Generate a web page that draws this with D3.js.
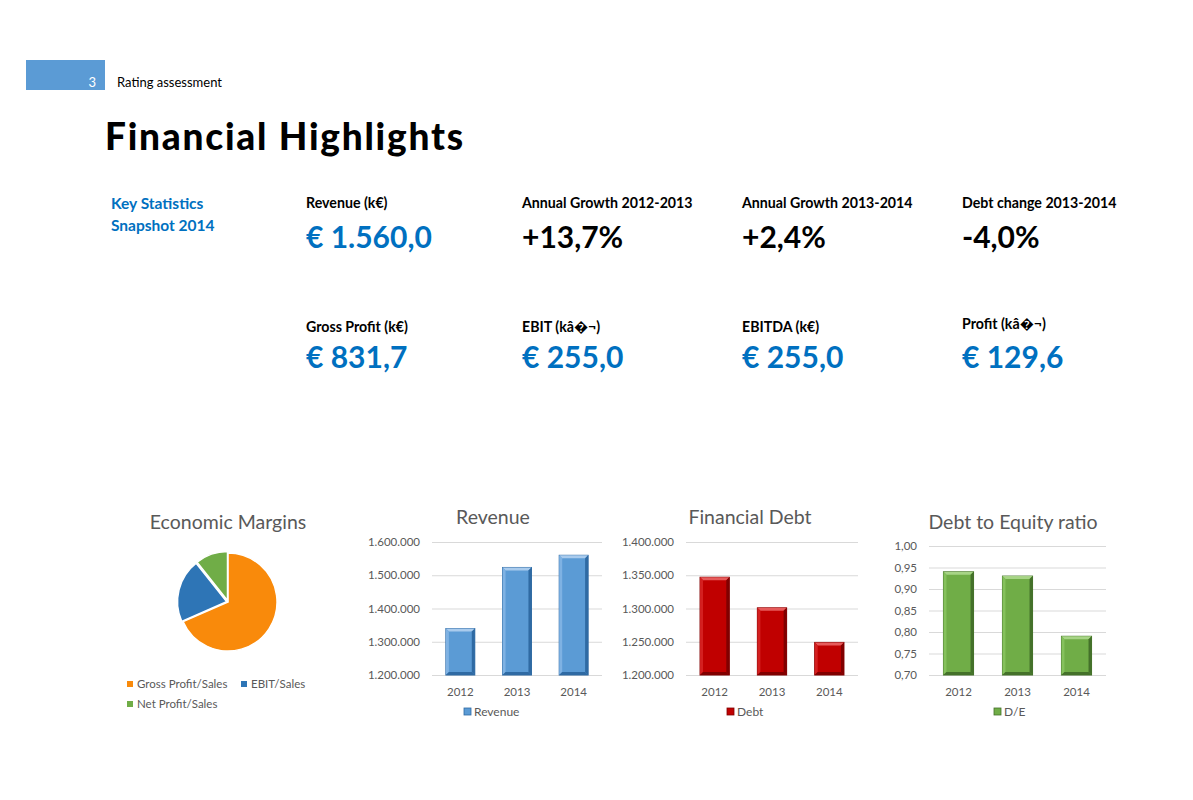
<!DOCTYPE html>
<html>
<head>
<meta charset="utf-8">
<script src="https://cdn.jsdelivr.net/npm/d3@7"></script>
<style>
body { margin:0; background:#fff; }
svg text { font-family: Lato, "Open Sans", sans-serif; }
</style>
</head>
<body>
<div id="page"></div>
<script>
// key figures (snapshot 2014)
var statLabels = ["Revenue (k€)", "Annual Growth 2012-2013", "Annual Growth 2013-2014", "Debt change 2013-2014",
                  "Gross Profit (k€)", "EBIT (kâ\uFFFD¬)", "EBITDA (k€)", "Profit (kâ\uFFFD¬)"]
var statValues = ["€ 1.560,0", "+13,7%", "+2,4%", "-4,0%", "€ 831,7", "€ 255,0", "€ 255,0", "€ 129,6"]

// charts
var years = ["2012", "2013", "2014"]
var revenue = [1339800, 1523400, 1560000]
var debt = [1347000, 1301000, 1249000]
var debtEquity = [0.94, 0.93, 0.79]
var marginNames = ["Gross Profit/Sales", "EBIT/Sales", "Net Profit/Sales"]
var marginValues = [53.3, 16.3, 8.3]

var W = 1193, H = 800
var grey = "#595959"
var blueText = "#0070c0"
var it = d3.formatLocale({decimal: ",", thousands: ".", grouping: [3], currency: ["€", ""]})

var svg = d3.select("#page").append("svg").attr("width", W).attr("height", H)

// header
svg.append("rect").attr("x", 26).attr("y", 60).attr("width", 79).attr("height", 30).attr("fill", "#5b9bd5")
svg.append("text").attr("x", 96).attr("y", 87).attr("text-anchor", "end").attr("fill", "#fff")
	.style("font-size", "13px").text("3")
svg.append("text").attr("x", 117).attr("y", 87).attr("fill", "#000").style("font-size", "13px").text("Rating assessment")

svg.append("text").attr("x", 105).attr("y", 150).attr("fill", "#000")
	.style("font-size", "37px").style("font-weight", "900")
	.attr("textLength", 358).attr("lengthAdjust", "spacing")
	.text("Financial Highlights")

// key statistics
svg.append("text").attr("x", 111).attr("y", 209).attr("fill", blueText)
	.style("font-size", "15.5px").style("font-weight", "bold").text("Key Statistics")
svg.append("text").attr("x", 111).attr("y", 231).attr("fill", blueText)
	.style("font-size", "15.5px").style("font-weight", "bold").text("Snapshot 2014")

var colX = [306, 522, 742, 962]
statLabels.forEach(function(lab, i) {
	var row = Math.floor(i / 4), col = i % 4
	var ly = row == 0 ? 208 : (i == 7 ? 329 : 332)
	var vy = row == 0 ? 248 : 368
	svg.append("text").attr("x", colX[col]).attr("y", ly).attr("fill", "#000")
		.style("font-size", "14.2px").style("font-weight", "bold").text(lab)
	var isPct = statValues[i].indexOf("%") >= 0
	svg.append("text").attr("x", colX[col]).attr("y", vy).attr("fill", isPct ? "#000" : blueText)
		.style("font-size", "30px").style("font-weight", "bold").text(statValues[i])
})

// pie: economic margins
svg.append("text").attr("x", 228).attr("y", 529).attr("text-anchor", "middle").attr("fill", grey)
	.style("font-size", "19.5px").text("Economic Margins")
var pieColors = ["#f98a0b", "#2e75b6", "#70ad47"]
var pie = d3.pie().sort(null)(marginValues)
var arc = d3.arc().innerRadius(0).outerRadius(49)
svg.append("g").attr("transform", "translate(228,602)")
	.selectAll("path").data(pie).enter().append("path")
	.attr("d", arc)
	.attr("transform", function(d, i) {
		if (i == 0) return null
		var c = arc.centroid(d), k = 1.5 / Math.hypot(c[0], c[1])
		return "translate(" + c[0] * k + "," + c[1] * k + ")"
	})
	.attr("fill", function(d, i) { return pieColors[i] })
	.attr("stroke", "#fff").attr("stroke-width", 1.5)
var legPos = [[127, 688], [241, 688], [127, 708]]
marginNames.forEach(function(n, i) {
	svg.append("rect").attr("x", legPos[i][0]).attr("y", legPos[i][1] - 7).attr("width", 6).attr("height", 6)
		.attr("fill", pieColors[i])
	svg.append("text").attr("x", legPos[i][0] + 10).attr("y", legPos[i][1]).attr("fill", grey)
		.style("font-size", "11.5px").text(n)
})

// bar charts
function barChart(opt) {
	var g = svg.append("g")
	var y = d3.scaleLinear().domain(opt.domain).range([675, opt.top])
	var x = d3.scaleBand().domain(years).range(opt.xr).paddingInner(0.49).paddingOuter(0.245)
	var ticks = d3.range(opt.domain[0], opt.domain[1] + opt.step / 2, opt.step)

	g.append("text").attr("x", opt.titleX).attr("y", opt.titleY).attr("text-anchor", "middle")
		.attr("fill", grey).style("font-size", "19.5px").text(opt.title)

	var yAxis = d3.axisLeft(y).tickValues(ticks).tickFormat(opt.fmt).tickSize(-(opt.xr[1] - opt.xr[0])).tickPadding(12)
	var ya = g.append("g").attr("transform", "translate(" + opt.xr[0] + ",0)").call(yAxis)
	ya.select(".domain").remove()
	ya.selectAll("line").attr("stroke", "#d9d9d9")
	ya.selectAll("text").attr("fill", grey).style("font-size", "11.5px")

	var xAxis = d3.axisBottom(x).tickSize(0).tickPadding(13)
	var xa = g.append("g").attr("transform", "translate(0,675)").call(xAxis)
	xa.select(".domain").remove()
	xa.selectAll("text").attr("fill", grey).style("font-size", "11.5px")

	var bars = g.selectAll(".bar").data(opt.values).enter().append("g").attr("class", "bar")
	bars.each(function(v, i) {
		var b = d3.select(this)
		var x0 = x(years[i]), w = x.bandwidth(), y0 = y(v), h = 675 - y0, e = 3
		b.append("rect").attr("x", x0).attr("y", y0).attr("width", w).attr("height", h)
			.attr("fill", opt.color).attr("stroke", opt.dark).attr("stroke-width", 1)
		// bevel edges
		b.append("polygon").attr("points", [[x0, y0], [x0 + w, y0], [x0 + w - e, y0 + e], [x0 + e, y0 + e]].join(" "))
			.attr("fill", opt.light)
		b.append("polygon").attr("points", [[x0, y0], [x0 + e, y0 + e], [x0 + e, y0 + h - e], [x0, y0 + h]].join(" "))
			.attr("fill", opt.mid)
		b.append("polygon").attr("points", [[x0 + w, y0], [x0 + w - e, y0 + e], [x0 + w - e, y0 + h - e], [x0 + w, y0 + h]].join(" "))
			.attr("fill", opt.dark)
		b.append("polygon").attr("points", [[x0, y0 + h], [x0 + e, y0 + h - e], [x0 + w - e, y0 + h - e], [x0 + w, y0 + h]].join(" "))
			.attr("fill", opt.dark)
	})

	g.append("rect").attr("x", opt.legX).attr("y", 708).attr("width", 7).attr("height", 7)
		.attr("fill", opt.color).attr("stroke", opt.dark).attr("stroke-width", 0.8)
	g.append("text").attr("x", opt.legX + 10).attr("y", 716).attr("fill", grey)
		.style("font-size", "12px").text(opt.legend)
}

barChart({
	title: "Revenue", titleX: 493, titleY: 524, values: revenue,
	domain: [1200000, 1600000], step: 100000, top: 542, xr: [432, 602],
	fmt: it.format(",.0f"), color: "#5b9bd5", light: "#a9cbed", mid: "#7fb2e3", dark: "#2f6aa3",
	legend: "Revenue", legX: 464
})
barChart({
	title: "Financial Debt", titleX: 750, titleY: 524, values: debt,
	domain: [1200000, 1400000], step: 50000, top: 542, xr: [686, 858],
	fmt: it.format(",.0f"), color: "#c00000", light: "#e65a5a", mid: "#d42020", dark: "#800000",
	legend: "Debt", legX: 727
})
barChart({
	title: "Debt to Equity ratio", titleX: 1013, titleY: 529, values: debtEquity,
	domain: [0.70, 1.00], step: 0.05, top: 546, xr: [929, 1106],
	fmt: it.format(".2f"), color: "#70ad47", light: "#a7d486", mid: "#85c15c", dark: "#44712a",
	legend: "D/E", legX: 994
})
</script>
</body>
</html>
